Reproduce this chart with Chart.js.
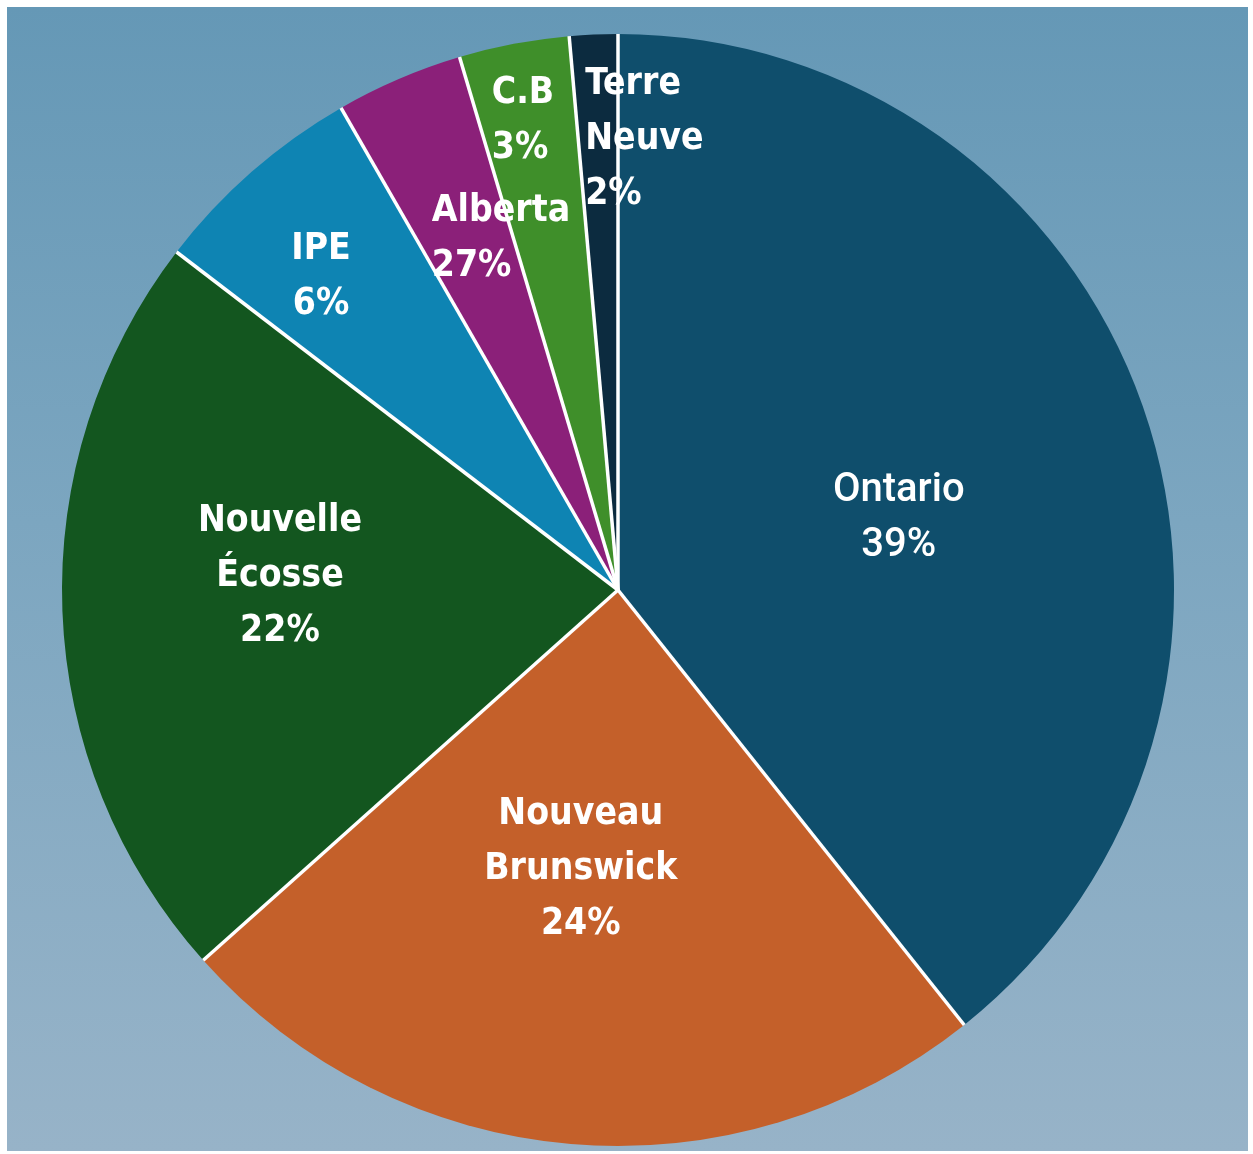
<!DOCTYPE html>
<html>
<head>
<meta charset="utf-8">
<script src="https://cdn.jsdelivr.net/npm/chart.js@4"></script>
<style>
  html, body { margin: 0; padding: 0; background: #ffffff; }
  #fond {
    position: absolute; left: 7px; top: 7px; width: 1241px; height: 1144px;
    background: linear-gradient(180deg, #6598b6 0%, #7ca6c0 45%, #97b3c8 100%);
  }
  #cadre { position: absolute; left: 0; top: 0; width: 1253px; height: 1154px; }
</style>
</head>
<body>
<div id="fond"></div>
<div id="cadre"><canvas id="grafica"></canvas></div>
<script>
// données
const provinces = ['Ontario', 'Nouveau Brunswick', 'Nouvelle Écosse', 'IPE', 'Alberta', 'C.B', 'Terre Neuve'];
const parts = [39.3, 24.1, 22.0, 6.3, 3.7, 3.2, 1.4];
const pourcentages = ['39%', '24%', '22%', '6%', '27%', '3%', '2%'];

const couleurs = ['#0f4e6c', '#c4602a', '#13561f', '#0e84b3', '#8b2079', '#3f8f2a', '#0c2b3f'];

// position du bloc de texte, en fraction du rayon depuis le centre
const posEtiquettes = [
    { dx: 0.505, dy: -0.135, align: 'center' },
    { dx: -0.067, dy: 0.496, align: 'center' },
    { dx: -0.608, dy: -0.032, align: 'center' },
    { dx: -0.534, dy: -0.570, align: 'center' },
    { dx: -0.335, dy: -0.638, align: 'left' },
    { dx: -0.227, dy: -0.851, align: 'left' },
    { dx: -0.059, dy: -0.818, align: 'left' }
];

const etiquettes = {
    id: 'etiquettes',
    afterDatasetsDraw(chart) {
        const ctx = chart.ctx;
        const arcs = chart.getDatasetMeta(0).data;
        const cx = arcs[0].x, cy = arcs[0].y, r = arcs[0].outerRadius;

        ctx.save();
        ctx.strokeStyle = '#ffffff';
        ctx.lineWidth = 3.5;
        arcs.forEach(a => {
            ctx.beginPath();
            ctx.moveTo(cx, cy);
            ctx.lineTo(cx + Math.cos(a.startAngle) * r, cy + Math.sin(a.startAngle) * r);
            ctx.stroke();
        });

        ctx.fillStyle = '#ffffff';
        ctx.textBaseline = 'alphabetic';
        const pas = r * 0.099;
        provinces.forEach((nom, i) => {
            const lignes = nom.split(' ').concat([pourcentages[i]]);
            const p = posEtiquettes[i];
            ctx.font = i === 0
                ? '500 40px Roboto, "Liberation Sans", sans-serif'
                : 'bold 37px "DejaVu Sans Condensed", "DejaVu Sans", sans-serif';
            ctx.textAlign = p.align;
            const x = cx + p.dx * r;
            const y0 = cy + p.dy * r - pas * (lignes.length - 1) / 2;
            lignes.forEach((l, k) => {
                ctx.fillText(l, x, y0 + k * pas + 13.5);
            });
        });
        ctx.restore();
    }
};

new Chart(document.getElementById('grafica').getContext('2d'), {
    type: 'pie',
    data: {
        labels: provinces,
        datasets: [{
            data: parts,
            backgroundColor: couleurs,
            borderWidth: 0
        }]
    },
    options: {
        responsive: true,
        maintainAspectRatio: false,
        animation: false,
        layout: { padding: { left: 62, right: 79, top: 34, bottom: 8 } },
        plugins: {
            legend: { display: false },
            tooltip: { enabled: false }
        }
    },
    plugins: [etiquettes]
});
</script>
</body>
</html>
